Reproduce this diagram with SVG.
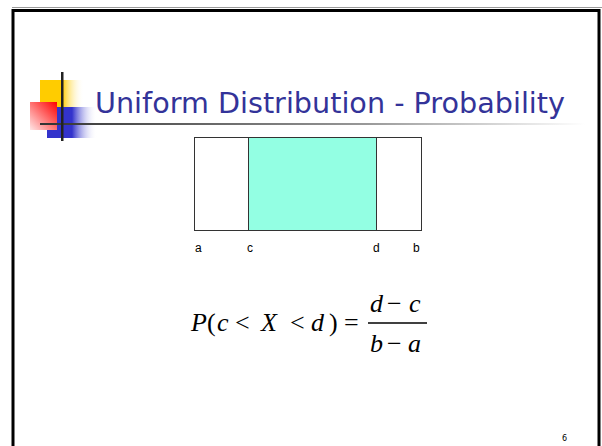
<svg xmlns="http://www.w3.org/2000/svg" width="602" height="446" viewBox="0 0 602 446">
<defs>
<linearGradient id="gy" x1="0" y1="0" x2="1" y2="0"><stop offset="0" stop-color="#FFCC00"/><stop offset="0.5" stop-color="#FFCC00"/><stop offset="1" stop-color="#FFFFFF" stop-opacity="0"/></linearGradient>
<linearGradient id="gb" x1="0" y1="0" x2="1" y2="0"><stop offset="0" stop-color="#3333CC"/><stop offset="0.5" stop-color="#3333CC"/><stop offset="1" stop-color="#FFFFFF" stop-opacity="0"/></linearGradient>
<linearGradient id="gr" x1="1" y1="0" x2="0" y2="1"><stop offset="0" stop-color="#FF0000"/><stop offset="1" stop-color="#FFE6E6"/></linearGradient>
<linearGradient id="gl" x1="0" y1="0" x2="1" y2="0"><stop offset="0" stop-color="#333333"/><stop offset="0.6" stop-color="#999999"/><stop offset="1" stop-color="#FFFFFF"/></linearGradient>
</defs>
<style>
.lbl{font-family:"Liberation Sans",Arial,sans-serif;font-size:12px;fill:#000}
.m{font-family:"Liberation Serif","Times New Roman",serif;font-size:26px;font-style:italic;fill:#000}
.mo{font-style:normal}
</style>
<rect width="602" height="446" fill="#FFFFFF"/>
<line x1="12" y1="7.5" x2="602" y2="7.5" stroke="#999" stroke-width="1"/>
<rect x="13" y="10.5" width="586" height="450" fill="none" stroke="#000" stroke-width="3"/>
<g id="logo">
<rect x="40" y="80" width="44" height="27" fill="url(#gy)"/>
<rect x="47" y="107" width="50" height="31" fill="url(#gb)"/>
<rect x="30" y="102" width="27" height="28" fill="url(#gr)"/>
<rect x="40" y="123" width="545" height="2" fill="url(#gl)"/>
<rect x="61" y="72" width="2.5" height="69" fill="#222"/>
</g>
<g id="title">
<text x="95" y="113" font-family="Tahoma,'DejaVu Sans','Liberation Sans',sans-serif" font-size="29" fill="#333399" textLength="470" lengthAdjust="spacingAndGlyphs">Uniform Distribution - Probability</text>
</g>
<g id="chart">
<rect x="194.5" y="137.5" width="227" height="93" fill="#FFFFFF" stroke="#333" stroke-width="1"/>
<rect x="248.5" y="137.5" width="128" height="93" fill="#93FFE3" stroke="#333" stroke-width="1"/>
<text class="lbl" x="195" y="252">a</text>
<text class="lbl" x="247" y="252">c</text>
<text class="lbl" x="373" y="252">d</text>
<text class="lbl" x="413" y="252">b</text>
</g>
<g id="formula">
<text class="m" y="331"><tspan x="191">P</tspan><tspan class="mo" x="207">(</tspan><tspan x="217">c</tspan><tspan class="mo" x="235">&lt;</tspan><tspan x="261">X</tspan><tspan class="mo" x="290">&lt;</tspan><tspan x="311">d</tspan><tspan class="mo" x="329">)</tspan><tspan class="mo" x="344">=</tspan></text>
<text class="m" y="312"><tspan x="370">d</tspan><tspan class="mo" x="387">−</tspan><tspan x="409">c</tspan></text>
<line x1="368" y1="323" x2="427" y2="323" stroke="#000" stroke-width="1.3"/>
<text class="m" y="352"><tspan x="370">b</tspan><tspan class="mo" x="387">−</tspan><tspan x="408">a</tspan></text>
</g>
<text x="562" y="441" font-family="Tahoma,'DejaVu Sans',sans-serif" font-size="8" fill="#000">6</text>
</svg>
